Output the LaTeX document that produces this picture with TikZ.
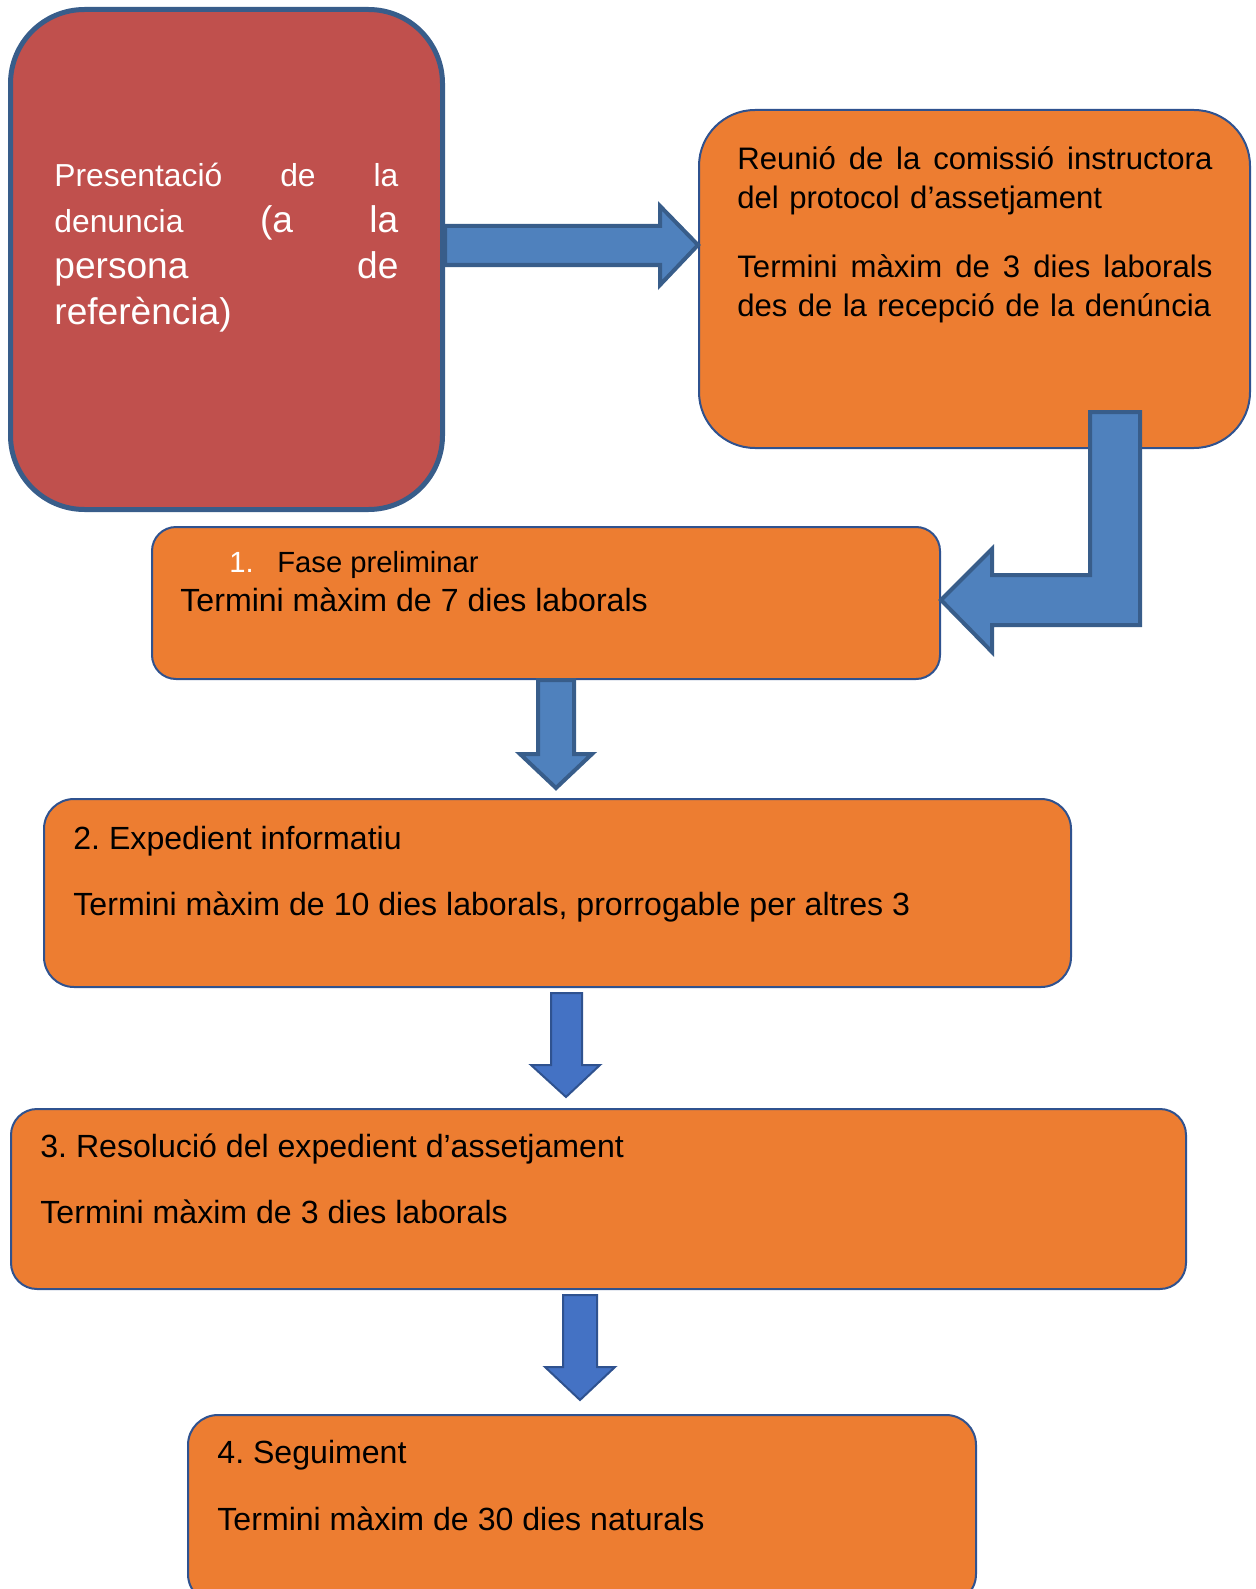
\documentclass[tikz,border=0pt]{standalone}
\usepackage{fontspec}
\setmainfont{Liberation Sans}
\usepackage{xcolor}
\usepackage{tikz}
\usetikzlibrary{calc}
\definecolor{taronja}{HTML}{ED7D31}
\definecolor{vermell}{HTML}{C0504D}
\definecolor{vora}{HTML}{385D8A}
\definecolor{voraprim}{HTML}{2F528F}
\definecolor{fletxa}{HTML}{4F81BD}
\definecolor{fletxafosca}{HTML}{4472C4}
\newcommand{\gran}{\fontsize{18.55}{23}\selectfont}
\frenchspacing

\begin{document}
\begin{tikzpicture}[x=0.5pt,y=-0.5pt]
\tikzstyle{every node}=[inner sep=0pt,align=left]
\tikzstyle{caixa}=[draw=voraprim,fill=taronja,line width=1pt,anchor=north west]
\tikzstyle{text12}=[font=\fontsize{16.05}{19.5}\selectfont,anchor=base west]
\tikzstyle{fletxagran}=[draw=vora,fill=fletxa,line width=2pt]
\tikzstyle{fletxapetita}=[draw=voraprim,fill=fletxafosca,line width=1pt]
\useasboundingbox (0,0) rectangle (1256,1589);
\clip (0,0) rectangle (1256,1589);
\node[draw=vora,fill=vermell,line width=2.5pt,rounded corners=37pt,anchor=north west,minimum width=216pt,minimum height=250pt] (red) at (8,7) {};
\node[caixa,rounded corners=28pt,minimum width=275.5pt,minimum height=169pt] (tr) at (698,109) {};
\node[caixa,rounded corners=12pt,minimum width=394pt,minimum height=76pt] (b1) at (151,526) {};
\node[caixa,rounded corners=15pt,minimum width=513.5pt,minimum height=94pt] (b2) at (43,798) {};
\node[caixa,rounded corners=13pt,minimum width=587.5pt,minimum height=90pt] (b3) at (10,1108) {};
\node[caixa,rounded corners=15pt,minimum width=394pt,minimum height=94.5pt] (b4) at (187,1414) {};
\node[anchor=base west,text width=172pt,text=white,font=\fontsize{15.9}{23}\selectfont] (denuncia) at (54,187) {Presentació\hfill de\hfill la\\denuncia\hfill{\gran (a}\hfill{\gran la}\\{\gran persona\hfill de}\\{\gran referència)}};
\node[anchor=base west,font=\fontsize{15.55}{19.5}\selectfont,text width=245pt] (reunio) at (737,170) {\makebox[237.5pt][s]{\spaceskip=0pt Reunió de la comissió instructora}\\del protocol d’assetjament\\[15pt]\makebox[237.5pt][s]{\spaceskip=0pt Termini màxim de 3 dies laborals}\\des de la recepció de la denúncia};
\node[anchor=base west,font=\fontsize{14.6}{17}\selectfont] (fase) at (229,572) {\makebox[24pt][l]{\textcolor{white}{1.}}Fase preliminar};
\node[text12] (termini1) at (180,611) {Termini màxim de 7 dies laborals};
\node[text12] (expedient) at (73,849) {2. Expedient informatiu};
\node[text12] (termini2) at (73,915) {Termini màxim de 10 dies laborals, prorrogable per altres 3};
\node[text12] (resolucio) at (40,1157) {3. Resolució del expedient d’assetjament};
\node[text12] (termini3) at (40,1223) {Termini màxim de 3 dies laborals};
\node[text12] (seguiment) at (217,1463) {4. Seguiment};
\node[text12] (termini4) at (217,1530) {Termini màxim de 30 dies naturals};
\coordinate (punta1) at (556,788);
\coordinate (punta2) at (566,1097);
\coordinate (punta3) at (580,1400);
\draw[fletxagran] (red.east |- 0,226) -- (660,226) -- (660,206) -- (tr.west |- 0,245) -- (660,285) -- (660,265) -- (red.east |- 0,265) -- cycle;
\draw[fletxagran] (1090,412) -- (1140,412) -- (1140,625) -- (992,625) -- (992,652) -- (b1.east |- 0,600) -- (992,549) -- (992,575) -- (1090,575) -- cycle;
\draw[fletxagran] (b1.south -| 538,0) -- (538,754) -- (520,754) -- (punta1) -- (592,754) -- (574,754) -- (b1.south -| 574,0) -- cycle;
\draw[fletxapetita] ($(b2.south -| 551,0)+(0,5)$) -- (551,1065) -- (531,1065) -- (punta2) -- (600,1065) -- (582,1065) -- ($(b2.south -| 582,0)+(0,5)$) -- cycle;
\draw[fletxapetita] ($(b3.south -| 563,0)+(0,5)$) -- (563,1367) -- (545,1367) -- (punta3) -- (615,1367) -- (597,1367) -- ($(b3.south -| 597,0)+(0,5)$) -- cycle;
\end{tikzpicture}
\end{document}
